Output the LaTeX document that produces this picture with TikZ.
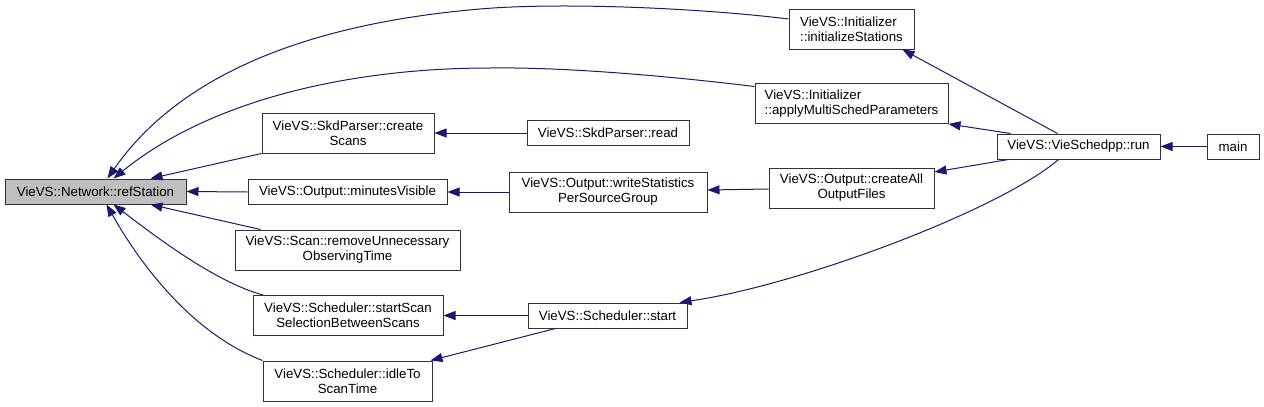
\documentclass[tikz,border=0pt]{standalone}
\usepackage{fontspec}
\setmainfont{Liberation Sans}
\usetikzlibrary{arrows.meta}
\definecolor{edgeblue}{HTML}{191970}
\definecolor{boxgrey}{HTML}{BFBFBF}
\definecolor{boxline}{HTML}{333333}
\tikzset{
  fn/.style={draw=boxline, line width=1pt, rectangle, inner sep=0pt, align=center,
    font=\fontsize{13.3}{15}\selectfont},
  fnl/.style={fn, align=left},
  cur/.style={fn, fill=boxgrey},
  edge/.style={draw=edgeblue, line width=1pt, -{Triangle[length=12pt,width=9pt]}}
}
\begin{document}
\begin{tikzpicture}[x=1pt,y=-1pt]
\useasboundingbox (0,0) rectangle (1264,407);
% nodes
\node[cur, minimum width=181pt, minimum height=25pt] (ref) at (95.5,191.5) {VieVS::Network::refStation};
\node[fn, minimum width=172pt, minimum height=40pt] (cscans) at (348,133) {VieVS::SkdParser::create\\Scans};
\node[fn, minimum width=199pt, minimum height=25pt] (minvis) at (347.5,192) {VieVS::Output::minutesVisible};
\node[fn, minimum width=225pt, minimum height=40pt] (remove) at (347.5,250) {VieVS::Scan::removeUnnecessary\\ObservingTime};
\node[fn, minimum width=190pt, minimum height=40pt] (sscan) at (348,315.5) {VieVS::Scheduler::startScan\\SelectionBetweenScans};
\node[fn, minimum width=169pt, minimum height=40pt] (idle) at (347.5,381) {VieVS::Scheduler::idleTo\\ScanTime};
\node[fnl, minimum width=125pt, minimum height=40pt] (initst) at (851.5,29) {VieVS::Initializer\\::initializeStations};
\node[fnl, minimum width=193pt, minimum height=40pt] (multi) at (851.5,103.5) {VieVS::Initializer\\::applyMultiSchedParameters};
\node[fn, minimum width=162pt, minimum height=25pt] (read) at (608,133) {VieVS::SkdParser::read};
\node[fn, minimum width=198pt, minimum height=40pt] (wstat) at (608,192) {VieVS::Output::writeStatistics\\PerSourceGroup};
\node[fn, minimum width=165pt, minimum height=40pt] (call) at (851.5,188) {VieVS::Output::createAll\\OutputFiles};
\node[fn, minimum width=159pt, minimum height=25pt] (start) at (607.5,315.5) {VieVS::Scheduler::start};
\node[fn, minimum width=163pt, minimum height=25pt] (run) at (1078.5,146.5) {VieVS::VieSchedpp::run};
\node[fn, minimum width=52pt, minimum height=25pt] (main) at (1233,146.5) {main};
% edges into refStation
\draw[edge] ([yshift=10pt]initst.west) .. controls (700,8) and (560,2) .. (480,9)
  .. controls (340,21) and (190,60) .. ([xshift=12pt]ref.north);
\draw[edge] ([yshift=17pt]multi.west) .. controls (660,75) and (560,67) .. (490,68)
  .. controls (350,68) and (210,100) .. ([xshift=18pt]ref.north);
\draw[edge] (cscans.south west) -- ([xshift=55pt]ref.north);
\draw[edge] (minvis.west) -- (ref.east);
\draw[edge] ([xshift=-87pt]remove.north) -- ([xshift=55pt]ref.south);
\draw[edge] ([xshift=-85pt]sscan.north) .. controls (215,282) and (155,236) .. ([xshift=18pt]ref.south);
\draw[edge] (idle.north west) .. controls (198,336) and (146,274) .. ([xshift=11pt]ref.south);
% other edges
\draw[edge] (read.west) -- (cscans.east);
\draw[edge] (wstat.west) -- (minvis.east);
\draw[edge] ([yshift=-1pt]call.west) -- ([yshift=2pt]wstat.east);
\draw[edge] (start.west) -- (sscan.east);
\draw[edge] ([xshift=-52pt]start.south) -- ([xshift=-2pt]idle.north east);
\draw[edge] ([xshift=-21pt]run.north) -- ([xshift=51pt]initst.south);
\draw[edge] ([xshift=-68pt]run.north) -- (multi.south east);
\draw[edge] ([xshift=-70pt]run.south) -- ([yshift=16pt]call.east);
\draw[edge] ([xshift=-20pt]run.south) .. controls (1000,210) and (800,285) .. ([xshift=72pt]start.north);
\draw[edge] (main.west) -- (run.east);
\end{tikzpicture}
\end{document}
